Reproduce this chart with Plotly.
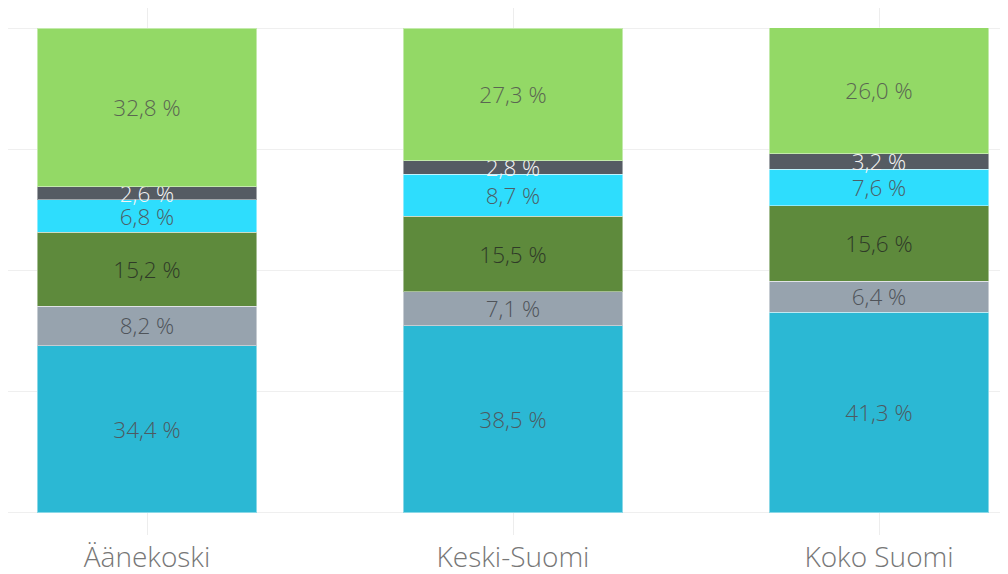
import plotly.graph_objects as go

categories = ["Äänekoski", "Keski-Suomi", "Koko Suomi"]

# stacked segments, bottom to top
seg1 = [34.4, 38.5, 41.3]
seg2 = [8.2, 7.1, 6.4]
seg3 = [15.2, 15.5, 15.6]
seg4 = [6.8, 8.7, 7.6]
seg5 = [2.6, 2.8, 3.2]
seg6 = [32.8, 27.3, 26.0]

series = [
    ("Ryhmä 1", seg1, "#2BB8D4", "#4d5a61"),
    ("Ryhmä 2", seg2, "#97A3AE", "#4f545a"),
    ("Ryhmä 3", seg3, "#5E8A3C", "#2f3a28"),
    ("Ryhmä 4", seg4, "#2EDDFD", "#4c5f67"),
    ("Ryhmä 5", seg5, "#555B63", "#f4f4f4"),
    ("Ryhmä 6", seg6, "#93D966", "#5a6652"),
]

def fmt(v):
    return f"{v:.1f} %".replace(".", ",")

fig = go.Figure()
for name, vals, color, tcolor in series:
    fig.add_trace(go.Bar(
        name=name,
        x=categories,
        y=vals,
        marker=dict(color=color, line=dict(color="rgba(255,255,255,0.45)", width=1)),
        text=[fmt(v) for v in vals],
        textposition="inside",
        insidetextanchor="middle",
        constraintext="none",
        textangle=0,
        insidetextfont=dict(family="Open Sans", size=22.5, color=tcolor, weight=300),
        width=0.6,
        showlegend=False,
        hoverinfo="skip",
    ))

fig.update_layout(
    barmode="stack",
    width=1008,
    height=574,
    margin=dict(l=0, r=0, t=0, b=47),
    paper_bgcolor="white",
    plot_bgcolor="white",
    uniformtext=dict(minsize=22, mode="show"),
    font=dict(family="Open Sans", color="#777777"),
)
fig.update_xaxes(
    type="category",
    range=[-0.3798, 2.3743],
    showgrid=True,
    gridcolor="#EDEDED",
    gridwidth=1,
    showline=False,
    zeroline=False,
    ticks="",
    ticklabelstandoff=3,
    tickfont=dict(family="Open Sans", size=28, color="#777777", weight=300),
)
fig.update_yaxes(
    range=[-4.64, 104.13],
    tickvals=[0, 25, 50, 75, 100],
    showticklabels=False,
    showgrid=True,
    gridcolor="#EFEFEF",
    gridwidth=1,
    zeroline=False,
    showline=False,
)

fig.write_html("out.html")
